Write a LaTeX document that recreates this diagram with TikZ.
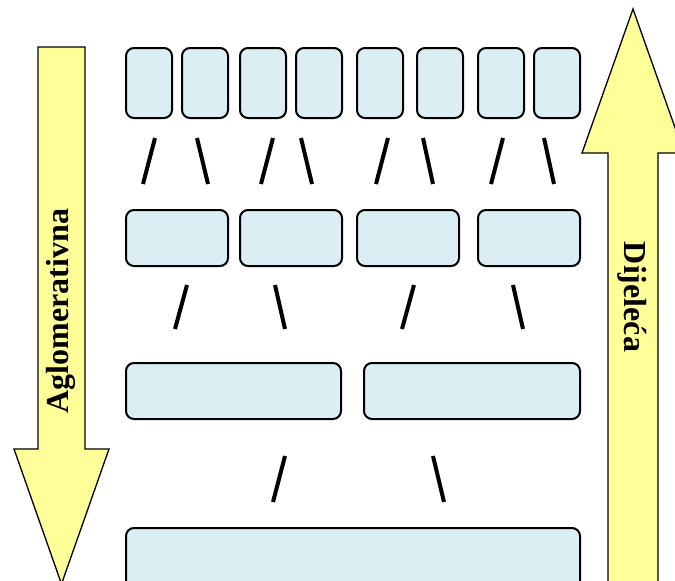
\documentclass[tikz,border=0pt]{standalone}
\usepackage{fontspec}
\setmainfont{Liberation Serif}
\usetikzlibrary{positioning}
\definecolor{boxfill}{HTML}{DAEEF3}
\definecolor{arrowfill}{HTML}{FFFF99}

\begin{document}
\begin{tikzpicture}[x=1pt, y=-1pt,
    cluster/.style={draw, line width=2pt, rounded corners=8pt, fill=boxfill, anchor=north west, inner sep=0pt},
    link/.style={line width=4pt},
    bigarrow/.style={draw, line width=1.3pt, fill=arrowfill},
    label/.style={font=\fontsize{32}{32}\selectfont\bfseries}
  ]
  \clip (0,0) rectangle (675,581);

  % direction arrows
  \draw[bigarrow] (38,47) -- (85,47) -- (85,449) -- (109,449) -- (61.5,584) -- (14,449) -- (38,449) -- cycle;
  \draw[bigarrow] (608,600) -- (608,153) -- (582,153) -- (633,9) -- (684,153) -- (658,153) -- (658,600) -- cycle;
  \node[label, rotate=90]  (agl) at (61,311) {Aglomerativna};
  \node[label, rotate=-90] (dij) at (632,297) {Dijeleća};

  % clusters
  \foreach \x [count=\i] in {125,181,239,295,356,416,477,533}
    \node[cluster, minimum width=46pt, minimum height=70pt] (leaf\i) at (\x,47) {};
  \foreach \x [count=\i] in {125,239,356,477}
    \node[cluster, minimum width=102pt, minimum height=56pt] (pair\i) at (\x,209) {};
  \node[cluster, minimum width=215pt, minimum height=56pt] (half1) at (125,362) {};
  \node[cluster, minimum width=216pt, minimum height=56pt] (half2) at (363,362) {};
  \node[cluster, minimum width=454pt, minimum height=70pt] (root) at (125,527) {};

  % merge marks
  \foreach \xa/\ya/\xb/\yb in {143/184/155/138, 197/138/208/184, 261/184/273/138, 301/138/312/184,
      376/184/388/138, 423/138/433/184, 491/184/503/138, 544/138/554/184,
      175/329/187/285, 275/285/285/329, 402/329/414/285, 513/285/523/329,
      273/502/285/456, 433/456/444/502}
    \draw[link] (\xa,\ya) -- (\xb,\yb);
\end{tikzpicture}
\end{document}
